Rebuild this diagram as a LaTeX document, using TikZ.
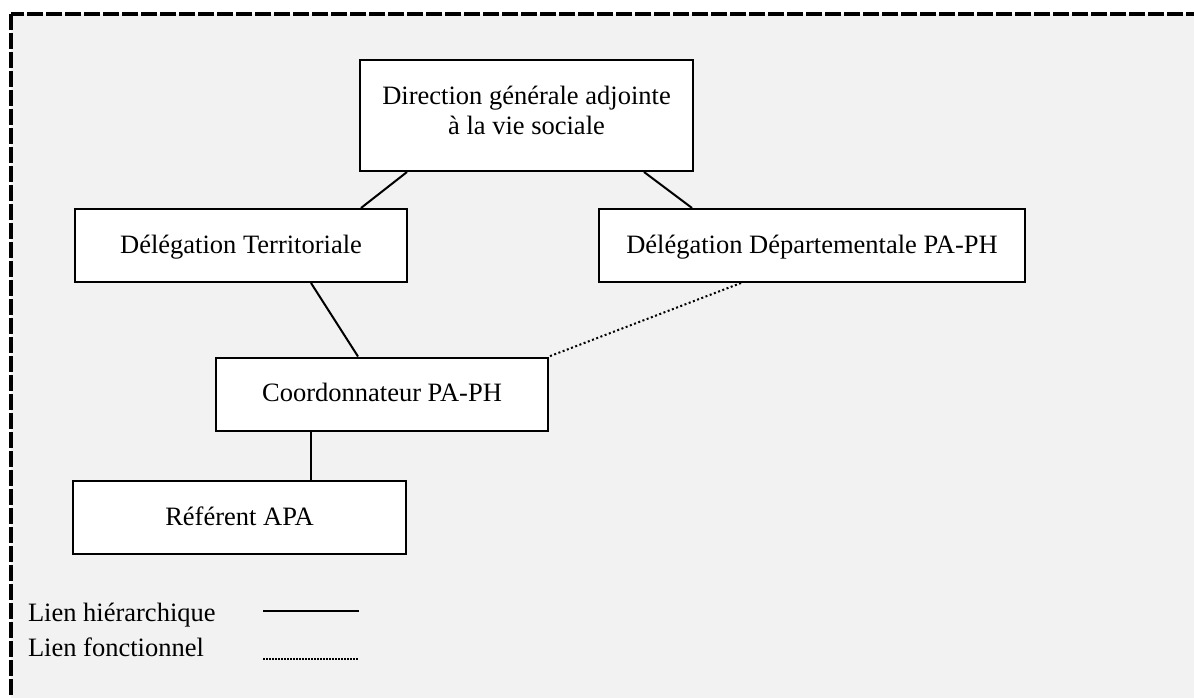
\documentclass[tikz,border=0pt]{standalone}
\usepackage{fontspec}
\setmainfont{Liberation Serif}
\definecolor{fond}{HTML}{F2F2F2}

\begin{document}
\begin{tikzpicture}[x=1pt, y=-1pt, line width=2pt,
		box/.style={draw, fill=white, inner sep=0pt, minimum height=73pt, text height=19pt, text depth=4pt, font=\fontsize{26.5}{30}\selectfont},
		legend/.style={anchor=base west, inner sep=0pt, font=\fontsize{26.5}{30}\selectfont},
		fonct/.style={dash pattern=on 2pt off 2.5pt}]
		\useasboundingbox (0,0) rectangle (1194,698);
		\clip (0,0) rectangle (1194,698);
		\draw[fill=fond, line width=4pt, dash pattern=on 16pt off 3pt] (11,14) rectangle (1230,730);

		\node[box, minimum width=333pt, minimum height=111pt, text height=75pt, text depth=36pt, align=center] (dir) at (526.5,115.5) {Direction générale adjointe\\à la vie sociale};
		\node[box, minimum width=332pt] (terr) at (241,245.5) {Délégation Territoriale};
		\node[box, minimum width=426pt] (dep) at (812,245.5) {Délégation Départementale PA-PH};
		\node[box, minimum width=332pt] (coord) at (382,394) {Coordonnateur PA-PH};
		\node[box, minimum width=333pt] (ref) at (239.5,517.5) {Référent APA};

		\draw ([xshift=48pt]dir.south west) -- ([xshift=287pt]terr.north west);
		\draw ([xshift=285pt]dir.south west) -- ([xshift=94pt]dep.north west);
		\draw ([xshift=237pt]terr.south west) -- ([xshift=143pt]coord.north west);
		\draw ([xshift=96pt]coord.south west) -- ([xshift=239pt]ref.north west);
		\draw[fonct] ([xshift=143pt]dep.south west) -- (coord.north east);

		% legende
		\node[legend] (hier) at (27,621) {Lien hiérarchique};
		\node[legend] (fonc) at (27,656) {Lien fonctionnel};
		\coordinate (h1) at (263,611);
		\coordinate (h2) at (359,611);
		\coordinate (f1) at (263,659);
		\coordinate (f2) at (359,659);
		\draw[line width=2.5pt] (h1) -- (h2);
		\draw[line width=1.5pt, dash pattern=on 1.5pt off 1.5pt] (f1) -- (f2);
	\end{tikzpicture}
\end{document}
